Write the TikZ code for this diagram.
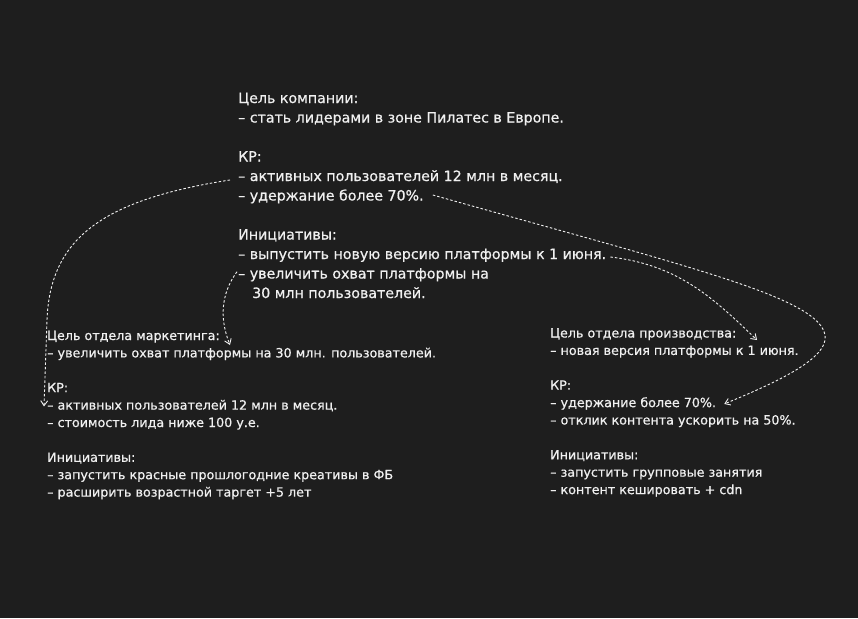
\documentclass[tikz,border=0pt]{standalone}
\usepackage{fontspec}
\setmainfont{DejaVu Sans}[FakeBold=0.6]
\usetikzlibrary{arrows.meta}
\definecolor{canvas}{HTML}{1E1E1E}
\definecolor{ink}{HTML}{F0F0F0}

\begin{document}
\begin{tikzpicture}[x=1pt, y=1pt,
    every node/.style = {anchor=base west, inner sep=0pt, text=ink},
    big/.style = {font=\fontsize{14.2}{17}\selectfont, text height=10pt, text depth=3pt},
    small/.style = {font=\fontsize{12.7}{15}\selectfont, text height=9pt, text depth=2.7pt},
    link/.style = {draw=ink, line width=0.9pt, dash pattern=on 2.5pt off 2pt,
      -{Straight Barb[length=5pt,width=7pt]}}]
  \fill[canvas] (0,0) rectangle (858,-618);

  % company goals
  \foreach \i/\t in {1/{Цель компании:}, 2/{– стать лидерами в зоне Пилатес в Европе.},
      4/{КР:}, 5/{– активных пользователей 12 млн в месяц.}, 6/{– удержание более 70\%.},
      8/{Инициативы:}, 9/{– выпустить новую версию платформы к 1 июня.},
      10/{– увеличить охват платформы на}}
    \node[big] (top\i) at (238, {-103-19.5*(\i-1)}) {\t};
  \node[big] (top11) at (252, -298) {30 млн пользователей.};

  % marketing
  \foreach \i/\t in {1/{Цель отдела маркетинга:}, 2/{– увеличить охват платформы на 30 млн. пользователей.},
      4/{КР:}, 5/{– активных пользователей 12 млн в месяц.}, 6/{– стоимость лида ниже 100 у.е.},
      8/{Инициативы:}, 9/{– запустить красные прошлогодние креативы в ФБ},
      10/{– расширить возрастной таргет +5 лет}}
    \node[small] (mk\i) at (47, {-340-17.4*(\i-1)}) {\t};

  % production
  \foreach \i/\t in {1/{Цель отдела производства:}, 2/{– новая версия платформы к 1 июня.},
      4/{КР:}, 5/{– удержание более 70\%.}, 6/{– отклик контента ускорить на 50\%.},
      8/{Инициативы:}, 9/{– запустить групповые занятия},
      10/{– контент кешировать + cdn}}
    \node[small] (pr\i) at (550, {-337.5-17.4*(\i-1)}) {\t};

  % links
  \draw[link] ([xshift=-8pt,yshift=-2.5pt]top5.west) .. controls (100,-200) and (50,-240) .. (47,-320)
    -- ([xshift=-3pt]mk5.west);
  \draw[link] ([xshift=-1pt,yshift=3.3pt]top10.west) .. controls (220,-295) and (220,-320)
    .. ([xshift=183pt,yshift=-5pt]mk1.base west);
  \draw[link] ([xshift=4pt,yshift=-1.5pt]top9.east) .. controls (680,-265) and (715,-300)
    .. ([xshift=207pt,yshift=-2.5pt]pr1.base west);
  \draw[link] ([xshift=9pt,yshift=2pt]top6.east) .. controls (700,-270) and (830,-300) .. (825,-340)
    .. controls (822,-362) and (770,-385) .. ([xshift=8pt]pr5.east);
\end{tikzpicture}
\end{document}
